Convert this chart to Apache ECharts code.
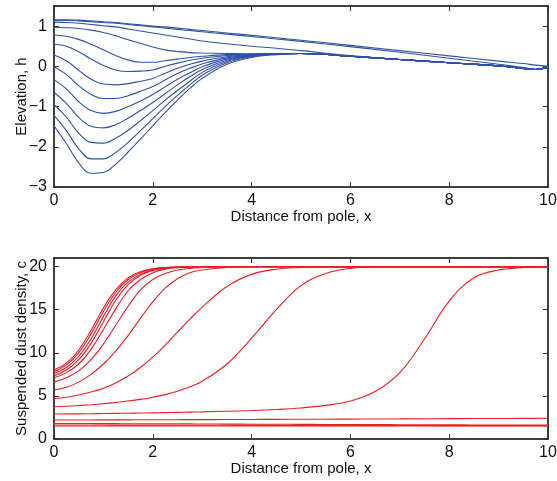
<!DOCTYPE html>
<html>
	<head>
		<meta charset="UTF-8">
		<title></title>
		<style>
			html, body { margin: 0; padding: 0; background: #fff; }
		</style>
	</head>
	<body>
		<div id="echart" style="width: 557px;height: 481px;overflow: hidden;"></div>
		<script src="https://cdn.jsdelivr.net/npm/echarts@6/dist/echarts.min.js" type="text/javascript" charset="utf-8"></script>
		<script type="text/javascript">
// elevation panel: x positions
var xTop = [0, 0.25, 0.5, 0.75, 1, 1.25, 1.5, 1.75, 2, 2.25, 2.5, 2.75, 3, 3.5, 4, 4.5, 5, 6, 7, 8, 9, 9.5, 9.75, 10];

// plateau tail shared by most elevation curves (x = 5 .. 10)
var hTail = [0.32, 0.25, 0.17, 0.09, 0.01, -0.05, -0.08, -0.02];

var h1 = [1.16, 1.16, 1.15, 1.13, 1.11, 1.09, 1.06, 1.03, 1.0, 0.98, 0.95, 0.92, 0.89, 0.83, 0.77, 0.71, 0.65, 0.52, 0.39, 0.26, 0.13, 0.07, 0.03, 0.0];
var h2 = [1.14, 1.14, 1.13, 1.11, 1.09, 1.07, 1.04, 1.01, 0.98, 0.95, 0.92, 0.89, 0.86, 0.80, 0.74, 0.68, 0.62, 0.49, 0.35, 0.20, 0.05, -0.03, -0.07, -0.01];
var h3 = [1.10, 1.09, 1.07, 1.04, 1.01, 0.98, 0.93, 0.88, 0.83, 0.78, 0.73, 0.68, 0.63, 0.56, 0.50, 0.45, 0.39, 0.27, 0.17, 0.09, 0.01, -0.05, -0.08, -0.02];
var h4 = [0.97, 0.96, 0.94, 0.90, 0.84, 0.76, 0.66, 0.57, 0.48, 0.41, 0.37, 0.34, 0.33, 0.32, 0.31, 0.32].concat(hTail);
var h5 = [0.78, 0.75, 0.67, 0.55, 0.41, 0.27, 0.16, 0.10, 0.10, 0.14, 0.18, 0.22, 0.25, 0.29, 0.30, 0.32].concat(hTail);
var h6 = [0.55, 0.50, 0.36, 0.18, 0.02, -0.09, -0.13, -0.12, -0.09, 0.0, 0.08, 0.15, 0.20, 0.27, 0.30, 0.32].concat(hTail);
var h7 = [0.28, 0.14, -0.10, -0.32, -0.44, -0.46, -0.43, -0.37, -0.30, -0.17, -0.05, 0.05, 0.13, 0.24, 0.29, 0.31].concat(hTail);
var h8 = [-0.01, -0.20, -0.48, -0.70, -0.80, -0.80, -0.73, -0.62, -0.50, -0.34, -0.18, -0.05, 0.06, 0.21, 0.28, 0.31].concat(hTail);
var h9 = [-0.33, -0.56, -0.88, -1.10, -1.17, -1.12, -1.0, -0.86, -0.70, -0.51, -0.32, -0.16, -0.01, 0.18, 0.27, 0.31].concat(hTail);
var h10 = [-0.65, -0.92, -1.27, -1.49, -1.53, -1.45, -1.29, -1.10, -0.90, -0.68, -0.46, -0.26, -0.08, 0.15, 0.26, 0.30].concat(hTail);
var h11 = [-0.95, -1.26, -1.66, -1.89, -1.91, -1.79, -1.59, -1.35, -1.10, -0.84, -0.60, -0.37, -0.15, 0.12, 0.25, 0.30].concat(hTail);
var h12 = [-1.22, -1.60, -2.05, -2.30, -2.30, -2.14, -1.89, -1.60, -1.30, -1.0, -0.72, -0.46, -0.22, 0.09, 0.24, 0.30].concat(hTail);
var h13 = [-1.48, -1.92, -2.40, -2.66, -2.64, -2.43, -2.13, -1.81, -1.48, -1.15, -0.84, -0.55, -0.30, 0.05, 0.22, 0.29].concat(hTail);
var elevation = [h1, h2, h3, h4, h5, h6, h7, h8, h9, h10, h11, h12, h13];

// dust density panel
var xBot = [0, 0.25, 0.5, 0.75, 1, 1.25, 1.5, 1.75, 2, 2.25, 2.5, 2.75, 3, 3.5, 4, 4.5, 5, 5.5, 6, 6.5, 7, 7.5, 8, 8.5, 9, 9.5, 10];

var c1 = [1.5, 1.5, 1.5, 1.5, 1.5, 1.5, 1.5, 1.5, 1.5, 1.5, 1.5, 1.5, 1.5, 1.5, 1.5, 1.5, 1.5, 1.5, 1.5, 1.5, 1.5, 1.5, 1.5, 1.5, 1.5, 1.5, 1.5];
var c2 = [1.63, 1.63, 1.62, 1.62, 1.62, 1.61, 1.61, 1.61, 1.60, 1.60, 1.60, 1.60, 1.59, 1.59, 1.58, 1.58, 1.57, 1.57, 1.57, 1.56, 1.56, 1.56, 1.55, 1.55, 1.55, 1.55, 1.55];
var c3 = [1.80, 1.80, 1.79, 1.79, 1.78, 1.78, 1.77, 1.77, 1.76, 1.76, 1.75, 1.75, 1.74, 1.73, 1.72, 1.71, 1.70, 1.69, 1.68, 1.67, 1.66, 1.65, 1.64, 1.63, 1.62, 1.62, 1.62];
var c4 = [2.20, 2.20, 2.21, 2.21, 2.22, 2.22, 2.22, 2.23, 2.23, 2.24, 2.24, 2.25, 2.25, 2.26, 2.27, 2.28, 2.29, 2.30, 2.31, 2.32, 2.33, 2.35, 2.36, 2.37, 2.38, 2.39, 2.40];
var c5 = [2.9, 2.91, 2.92, 2.93, 2.95, 2.97, 2.99, 3.01, 3.03, 3.06, 3.09, 3.12, 3.15, 3.22, 3.30, 3.42, 3.60, 3.90, 4.40, 5.50, 7.70, 11.6, 16.0, 18.7, 19.6, 19.9, 20];
var c6 = [3.75, 3.80, 3.88, 3.98, 4.10, 4.24, 4.40, 4.60, 4.85, 5.15, 5.55, 6.05, 6.70, 8.70, 11.7, 15.0, 17.8, 19.2, 19.8, 19.95, 20, 20, 20, 20, 20, 20, 20];
var c7 = [4.7, 4.85, 5.1, 5.45, 5.9, 6.5, 7.3, 8.3, 9.5, 10.9, 12.4, 13.9, 15.3, 17.7, 19.1, 19.7, 19.9, 20, 20, 20, 20, 20, 20, 20, 20, 20, 20];
var c8 = [5.7, 6.0, 6.6, 7.5, 8.7, 10.2, 12.0, 14.0, 15.9, 17.5, 18.6, 19.3, 19.6, 19.9, 20, 20, 20, 20, 20, 20, 20, 20, 20, 20, 20, 20, 20];
var c9 = [6.6, 7.1, 7.9, 9.2, 11.0, 13.2, 15.4, 17.3, 18.5, 19.2, 19.6, 19.8, 19.9, 20, 20, 20, 20, 20, 20, 20, 20, 20, 20, 20, 20, 20, 20];
var c10 = [7.1, 7.7, 8.7, 10.4, 12.7, 15.1, 17.2, 18.5, 19.3, 19.7, 19.88, 19.95, 20, 20, 20, 20, 20, 20, 20, 20, 20, 20, 20, 20, 20, 20, 20];
var c11 = [7.35, 8.0, 9.2, 11.1, 13.6, 16.1, 17.9, 19.0, 19.55, 19.8, 19.92, 20, 20, 20, 20, 20, 20, 20, 20, 20, 20, 20, 20, 20, 20, 20, 20];
var c12 = [7.6, 8.3, 9.6, 11.6, 14.2, 16.6, 18.2, 19.1, 19.6, 19.85, 19.93, 20, 20, 20, 20, 20, 20, 20, 20, 20, 20, 20, 20, 20, 20, 20, 20];
var c13 = [7.8, 8.6, 10.0, 12.2, 14.8, 17.0, 18.5, 19.3, 19.7, 19.88, 19.95, 20, 20, 20, 20, 20, 20, 20, 20, 20, 20, 20, 20, 20, 20, 20, 20];
var c14 = [8.0, 8.8, 10.3, 12.6, 15.2, 17.3, 18.7, 19.4, 19.75, 19.9, 19.95, 20, 20, 20, 20, 20, 20, 20, 20, 20, 20, 20, 20, 20, 20, 20, 20];
var density = [c1, c2, c3, c4, c5, c6, c7, c8, c9, c10, c11, c12, c13, c14];

var xTicks = [0, 2, 4, 6, 8, 10];
var hTicks = [-3, -2, -1, 0, 1];
var cTicks = [0, 5, 10, 15, 20];

var FONT = 'Liberation Sans, Arial, Helvetica, sans-serif';

function pairs(xs, ys) {
	var out = [];
	for (var i = 0; i < xs.length; i++) {
		out.push([xs[i], ys[i]]);
	}
	return out;
}

// only label the listed ticks, MATLAB style minus sign
function tickFmt(list) {
	return function (v) {
		if (list.indexOf(v) < 0) return '';
		return String(v).replace('-', '\u2212');
	};
}

var edge = { show: true, onZero: false, lineStyle: { color: '#000', width: 1.5 } };
var tick = { show: true, inside: true, length: 5, lineStyle: { color: '#333' } };
var nameStyle = { fontFamily: FONT, fontSize: 15, color: '#111' };

// one box frame = bottom/top x axes + left/right y axes
function xAxes(grid, title) {
	return [{
		type: 'value', gridIndex: grid, position: 'bottom', min: 0, max: 10, interval: 2,
		name: title, nameLocation: 'middle', nameGap: 22, nameMoveOverlap: false,
		nameTextStyle: nameStyle,
		axisLine: edge, axisTick: tick,
		axisLabel: { fontFamily: FONT, fontSize: 16, color: '#111', margin: 6, formatter: tickFmt(xTicks) },
		splitLine: { show: false }
	}, {
		type: 'value', gridIndex: grid, position: 'top', min: 0, max: 10, interval: 2,
		axisLine: edge, axisTick: tick,
		axisLabel: { show: false },
		splitLine: { show: false }
	}];
}

function yAxes(grid, title, min, max, step, ticks) {
	return [{
		type: 'value', gridIndex: grid, position: 'left', min: min, max: max, interval: step,
		name: title, nameLocation: 'middle', nameGap: 25, nameMoveOverlap: false,
		nameTextStyle: nameStyle,
		axisLine: edge, axisTick: tick,
		axisLabel: { fontFamily: FONT, fontSize: 16, color: '#111', margin: 7, formatter: tickFmt(ticks) },
		splitLine: { show: false }
	}, {
		type: 'value', gridIndex: grid, position: 'right', min: min, max: max, interval: step,
		axisLine: edge, axisTick: tick,
		axisLabel: { show: false },
		splitLine: { show: false }
	}];
}

var ss = [];
for (var i = 0; i < elevation.length; i++) {
	ss.push({
		type: 'line', xAxisIndex: 0, yAxisIndex: 0, data: pairs(xTop, elevation[i]),
		smooth: 0.4, symbol: 'none', silent: true,
		lineStyle: { color: '#2f52a8', width: 1.1 }
	});
}
for (var j = 0; j < density.length; j++) {
	ss.push({
		type: 'line', xAxisIndex: 2, yAxisIndex: 2, data: pairs(xBot, density[j]),
		smooth: 0.4, symbol: 'none', silent: true,
		lineStyle: { color: '#ee1c24', width: 1.1 }
	});
}

var myChart = echarts.init(document.getElementById('echart'));
myChart.setOption({
	animation: false,
	backgroundColor: '#fff',
	grid: [
		{ left: 54, right: 9, top: 6, height: 181, outerBoundsMode: 'none', containLabel: false },
		{ left: 54, right: 9, top: 258, height: 181, outerBoundsMode: 'none', containLabel: false }
	],
	xAxis: xAxes(0, 'Distance from pole, x').concat(xAxes(1, 'Distance from pole, x')),
	yAxis: yAxes(0, 'Elevation, h', -3, 1.5, 1, hTicks).concat(yAxes(1, 'Suspended dust density, c', 0, 21, 5, cTicks)),
	series: ss
});
		</script>
	</body>
</html>
